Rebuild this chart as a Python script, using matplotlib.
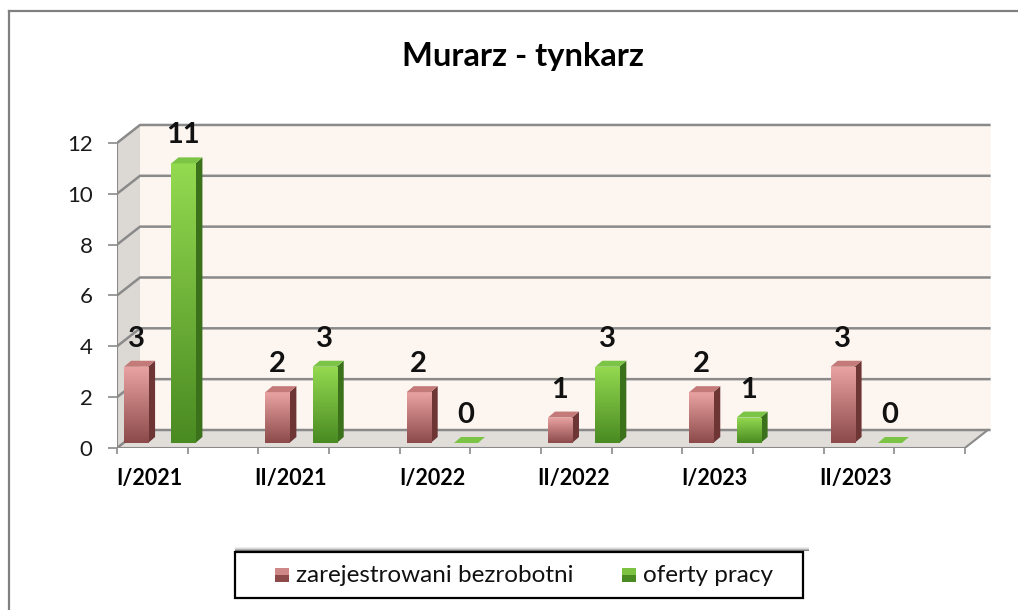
import numpy as np
import matplotlib
matplotlib.use("Agg")
import matplotlib.pyplot as plt
from matplotlib.patches import Polygon, Rectangle
from matplotlib.lines import Line2D
from matplotlib.colors import LinearSegmentedColormap

plt.rcParams["font.family"] = ["Lato", "DejaVu Sans"]

title = "Murarz - tynkarz"
categories = ["I/2021", "II/2021", "I/2022", "II/2022", "I/2023", "II/2023"]
series_names = ["zarejestrowani bezrobotni", "oferty pracy"]
unemployed = [3, 2, 2, 1, 2, 3]
offers = [11, 3, 0, 3, 1, 0]
y_ticks = [0, 2, 4, 6, 8, 10, 12]

W, H = 1018, 610
fig = plt.figure(figsize=(W / 100, H / 100), dpi=100)

# pixel geometry of the "3d" plot box
px_x0, px_unit_x = 117, 141.3
px_y0, px_unit_y = 448, 25.42
xlim = (0, 6.3)
ylim = (0, 13)
ax = fig.add_axes([px_x0 / W, (H - px_y0) / H,
                   (xlim[1] - xlim[0]) * px_unit_x / W,
                   (ylim[1] - ylim[0]) * px_unit_y / H])
ax.set_xlim(*xlim)
ax.set_ylim(*ylim)
for s in ax.spines.values():
    s.set_visible(False)
ax.patch.set_alpha(0)

n = len(categories)
dxb, dyb = 23 / px_unit_x, 18 / px_unit_y      # depth of the back wall
grid_c = "#8a8a8a"

# walls and floor
ax.add_patch(Polygon([(dxb, dyb), (n + dxb + 0.02, dyb), (n + dxb + 0.02, 12 + dyb), (dxb, 12 + dyb)],
                     closed=True, fc="#fdf5ef", ec="none", zorder=0))
ax.add_patch(Polygon([(0, 0), (dxb, dyb), (dxb, 12 + dyb), (0, 12)],
                     closed=True, fc="#dcd9d5", ec="none", zorder=0))
ax.add_patch(Polygon([(0, 0), (n, 0), (n + dxb, dyb), (dxb, dyb)],
                     closed=True, fc="#e1ddd9", ec="none", zorder=0))
for yv in y_ticks:
    ax.plot([0, dxb, n + dxb + 0.02], [yv, yv + dyb, yv + dyb], color=grid_c, lw=1.8, zorder=1,
            solid_capstyle="butt")
ax.plot([0, 0], [0, 12], color=grid_c, lw=1.5, zorder=1)
ax.plot([0, n, n + dxb], [0, 0, dyb], color=grid_c, lw=1.5, zorder=1)

# axes ticks
ax.set_yticks(y_ticks)
ax.set_yticklabels([str(v) for v in y_ticks], fontsize=16, color="#1a1a1a")
ax.tick_params(axis="y", length=6.5, width=1.2, color=grid_c, pad=11)
ax.set_xticks(np.arange(0, n + 0.01, 0.5))
ax.set_xticklabels([])
ax.tick_params(axis="x", length=4.3, width=1.2, color=grid_c)
for i, lab in enumerate(categories):
    ax.text(i + 0.23, 0, lab, ha="center", va="center", fontsize=15.5, fontweight="bold",
            transform=ax.transData + matplotlib.transforms.ScaledTranslation(0, -0.30, fig.dpi_scale_trans))

# bars
base = 5 / px_unit_y
bw = 0.17
ddx, ddy = 7 / px_unit_x, 6 / px_unit_y
x_idx = np.arange(n)
styles = [
    dict(off=0.05, top="#e9a3a2", bottom="#8c4a4a", side="#6e3535", cap="#c47a79"),
    dict(off=0.385, top="#94da50", bottom="#4a8a22", side="#3b711a", cap="#7cc446"),
]
grad = np.linspace(1, 0, 100).reshape(-1, 1)
for vals, st in zip([unemployed, offers], styles):
    bars = ax.bar(x_idx + st["off"], vals, width=bw, bottom=base, align="edge",
                  color=st["bottom"], lw=0, zorder=3)
    cmap = LinearSegmentedColormap.from_list("g", [st["bottom"], st["top"]])
    for rect, v in zip(bars, vals):
        x0 = rect.get_x()
        x1 = x0 + rect.get_width()
        y0 = rect.get_y()
        y1 = y0 + rect.get_height()
        if v > 0:
            im = ax.imshow(grad, extent=[x0, x1, y0, y1], aspect="auto", cmap=cmap,
                           vmin=0, vmax=1, zorder=3.1, interpolation="bilinear")
            im.set_clip_path(rect)
            ax.add_patch(Polygon([(x1, y0), (x1 + ddx, y0 + ddy), (x1 + ddx, y1 + ddy), (x1, y1)],
                                 closed=True, fc=st["side"], ec="none", zorder=3))
        ax.add_patch(Polygon([(x0, y1), (x1, y1), (x1 + ddx, y1 + ddy), (x0 + ddx, y1 + ddy)],
                             closed=True, fc=st["cap"], ec="none", zorder=3.2))
        ax.annotate(str(v), ((x0 + x1) / 2, y1), xytext=(0, 20), textcoords="offset pixels",
                    ha="center", va="baseline", fontsize=21, fontweight="bold", color="#111111")
ax.set_xlim(*xlim)
ax.set_ylim(*ylim)

# title
fig.text(523 / W, 1 - 66 / H, title, ha="center", va="baseline", fontsize=23.5, fontweight="bold")

# chart border (top and left edges visible)
fig.add_artist(Line2D([9 / W, 1], [1 - 11 / H, 1 - 11 / H], color="#808080", lw=1.6))
fig.add_artist(Line2D([9 / W, 9 / W], [0, 1 - 11 / H], color="#808080", lw=1.6))

# legend box with shadow on top
lx0, lx1, ly0, ly1 = 235, 803, 552, 598
for k, a in enumerate([0.5, 0.3, 0.15, 0.07]):
    fig.add_artist(Rectangle((lx0 / W, 1 - (ly0 - 1 - k) / H), (lx1 - lx0 + 6) / W, 1.2 / H,
                             transform=fig.transFigure, fc="#000000", ec="none", alpha=a))
fig.add_artist(Rectangle((lx0 / W, 1 - ly1 / H), (lx1 - lx0) / W, (ly1 - ly0) / H,
                         transform=fig.transFigure, fc="white", ec="black", lw=1.6))
leg_items = [(275, 296, styles[0]), (622, 643, styles[1])]
for name, (mx, tx, st) in zip(series_names, leg_items):
    fig.add_artist(Rectangle((mx / W, 1 - 582 / H), 14 / W, 14 / H, transform=fig.transFigure,
                             fc=st["bottom"], ec="none"))
    fig.add_artist(Rectangle((mx / W, 1 - 575 / H), 14 / W, 7 / H, transform=fig.transFigure,
                             fc=st["top"], ec="none", alpha=0.7))
    fig.text(tx / W, 1 - 576 / H, name, ha="left", va="center", fontsize=17.5, color="#111111")

fig.savefig("out.png", dpi=100)
